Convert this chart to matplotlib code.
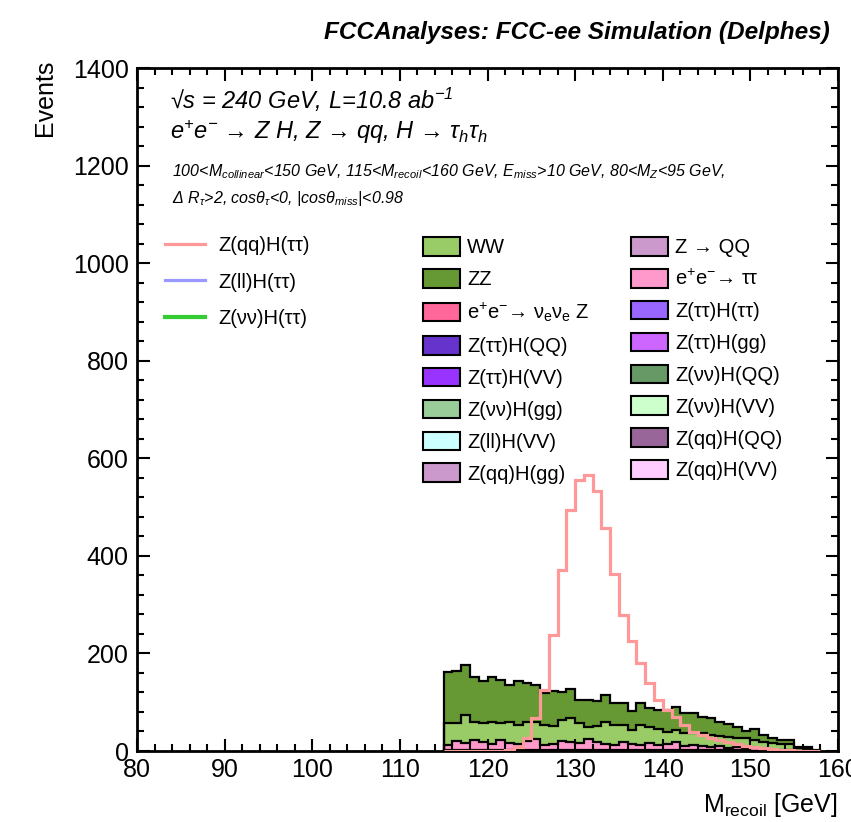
import matplotlib
matplotlib.use('Agg')

import numpy as np
import matplotlib.pyplot as plt
from matplotlib.patches import Patch
from matplotlib.lines import Line2D
from matplotlib.ticker import MultipleLocator


plt.rcParams['font.family'] = ['Liberation Sans', 'DejaVu Sans']
plt.rcParams['mathtext.default'] = 'regular'

# recoil mass bins, 1 GeV wide, 115 -> 158 GeV
bin_edges = np.arange(115, 159)

# stacked backgrounds (events per bin), bottom to top
nunuz = [2, 3, 2, 2, 3, 2, 2, 2, 3, 2, 2, 2, 3, 2, 2, 2, 2, 3, 2, 2, 2, 2,
         2, 2, 2, 2, 2, 2, 2, 2, 2, 2, 2, 2, 1, 1, 1, 1, 1, 1, 0, 0, 0]
tautau = [10, 18, 14, 20, 16, 12, 20, 14, 12, 18, 22, 10, 12, 18, 16, 14, 22,
          16, 12, 10, 16, 12, 10, 14, 10, 12, 16, 8, 10, 8, 6, 8, 4, 6, 3, 5,
          3, 2, 1, 2, 1, 1, 0]
ww = [45, 37, 58, 38, 39, 46, 35, 44, 39, 40, 36, 41, 36, 43, 49, 41, 26, 32,
      46, 41, 35, 29, 41, 34, 34, 25, 25, 26, 24, 26, 25, 20, 22, 19, 22, 17,
      14, 13, 13, 11, 5, 4, 1]
zz = [105, 107, 102, 92, 85, 92, 88, 75, 89, 79, 75, 65, 71, 58, 61, 47, 54,
      51, 55, 45, 45, 38, 45, 38, 38, 45, 48, 41, 42, 34, 35, 30, 27, 23, 14,
      23, 15, 11, 8, 8, 3, 3, 1]

# signal Z(qq)H(tautau)
sig_qq = [0, 0, 0, 0, 0, 1, 1, 2, 9, 26, 68, 125, 238, 371, 494, 555, 566,
          532, 457, 363, 279, 225, 180, 139, 105, 84, 70, 53, 38, 32, 27, 22,
          18, 14, 11, 8, 6, 5, 3, 2, 1, 1, 0]

bkg_names = ["WW", "ZZ", "e$^{+}$e$^{-}$\u2192 \u03bd$_{e}$\u03bd$_{e}$ Z",
             "Z(\u03c4\u03c4)H(QQ)", "Z(\u03c4\u03c4)H(VV)", "Z(\u03bd\u03bd)H(gg)",
             "Z(ll)H(VV)", "Z(qq)H(gg)",
             "Z \u2192 QQ", "e$^{+}$e$^{-}$\u2192 \u03c4\u03c4",
             "Z(\u03c4\u03c4)H(\u03c4\u03c4)", "Z(\u03c4\u03c4)H(gg)",
             "Z(\u03bd\u03bd)H(QQ)", "Z(\u03bd\u03bd)H(VV)", "Z(qq)H(QQ)",
             "Z(qq)H(VV)"]
bkg_colors = ["#99cc66", "#669933", "#ff6699", "#6633cc", "#9933ff",
              "#99cc99", "#ccffff", "#cc99cc",
              "#cc99cc", "#ff99cc", "#9966ff", "#cc66ff", "#669966",
              "#ccffcc", "#996699", "#ffccff"]

sig_names = ["Z(qq)H(\u03c4\u03c4)", "Z(ll)H(\u03c4\u03c4)", "Z(\u03bd\u03bd)H(\u03c4\u03c4)"]
sig_colors = ["#ff9999", "#9999ff", "#33cc33"]


W, H = 851, 822
fig = plt.figure(figsize=(W / 100, H / 100), dpi=100)
ax = fig.add_axes([137 / W, 1 - 751 / H, (838 - 137) / W, (751 - 68) / H])

layers = [(nunuz, "#ff6699"), (tautau, "#ff99cc"), (ww, "#99cc66"), (zz, "#669933")]
base = np.zeros(len(bin_edges) - 1)
tops = []
for vals, col in layers:
    top = base + np.array(vals)
    ax.stairs(top, bin_edges, baseline=base, fill=True, color=col, lw=0)
    tops.append(top)
    base = top
for top in tops:
    ax.stairs(top, bin_edges, color="black", lw=1.6)

ax.stairs(sig_qq, bin_edges, color=sig_colors[0], lw=2.3, zorder=4)

ax.set_xlim(80, 160)
ax.set_ylim(0, 1400)
ax.xaxis.set_major_locator(MultipleLocator(10))
ax.xaxis.set_minor_locator(MultipleLocator(2))
ax.yaxis.set_major_locator(MultipleLocator(200))
ax.yaxis.set_minor_locator(MultipleLocator(40))
ax.tick_params(which='both', direction='in', top=True, right=True, width=1.5,
               labelsize=18)
ax.tick_params(which='major', length=9)
ax.tick_params(which='minor', length=5)
ax.tick_params(axis='x', pad=5)
ax.tick_params(axis='y', pad=6)
for sp in ax.spines.values():
    sp.set_linewidth(2)

fig.text(45 / W, 1 - 60 / H, "Events", rotation=90, ha='center', va='top',
         fontsize=18)
fig.text(838 / W, 1 - 805 / H, "M$_{recoil}$ [GeV]", ha='right', va='center',
         fontsize=18)

fig.text(830 / W, 1 - 32 / H, "FCCAnalyses: FCC-ee Simulation (Delphes)",
         ha='right', va='center', fontsize=17.6, fontweight='bold',
         fontstyle='italic')
fig.text(170 / W, 1 - 100 / H, "\u221as = 240 GeV, L=10.8 ab$^{-1}$",
         ha='left', va='center', fontsize=17, fontstyle='italic')
fig.text(170 / W, 1 - 132 / H,
         "e$^{+}$e$^{-}$ \u2192 Z H, Z \u2192 qq, H \u2192 \u03c4$_{h}$\u03c4$_{h}$",
         ha='left', va='center', fontsize=17, fontstyle='italic')
fig.text(172 / W, 1 - 172 / H,
         "100<M$_{collinear}$<150 GeV, 115<M$_{recoil}$<160 GeV, "
         "E$_{miss}$>10 GeV, 80<M$_{Z}$<95 GeV,",
         ha='left', va='center', fontsize=11.5, fontstyle='italic')
fig.text(172 / W, 1 - 199 / H,
         "\u0394 R$_{\u03c4}$>2, cos\u03b8$_{\u03c4}$<0, |cos\u03b8$_{miss}$|<0.98",
         ha='left', va='center', fontsize=11.5, fontstyle='italic')

line_handles = [Line2D([], [], color=c, lw=2.3 if i < 2 else 3)
                for i, c in enumerate(sig_colors)]
leg1 = ax.legend(line_handles, sig_names, loc='upper left',
                 bbox_to_anchor=(165 / W, 1 - 236 / H),
                 bbox_transform=fig.transFigure, frameon=False, fontsize=14.5,
                 handlelength=2.0, handletextpad=0.65, labelspacing=0.87,
                 borderpad=0, borderaxespad=0)
ax.add_artist(leg1)

box_handles = [Patch(facecolor=c, edgecolor='black', lw=1.5) for c in bkg_colors]
ax.legend(box_handles, bkg_names, ncol=2, loc='upper left',
          bbox_to_anchor=(423 / W, 1 - 237 / H),
          bbox_transform=fig.transFigure, frameon=False, fontsize=14.5,
          handlelength=1.84, handleheight=1.05, handletextpad=0.35,
          labelspacing=0.58, columnspacing=2.05, borderpad=0, borderaxespad=0)

plt.savefig("out.png", dpi=100)
